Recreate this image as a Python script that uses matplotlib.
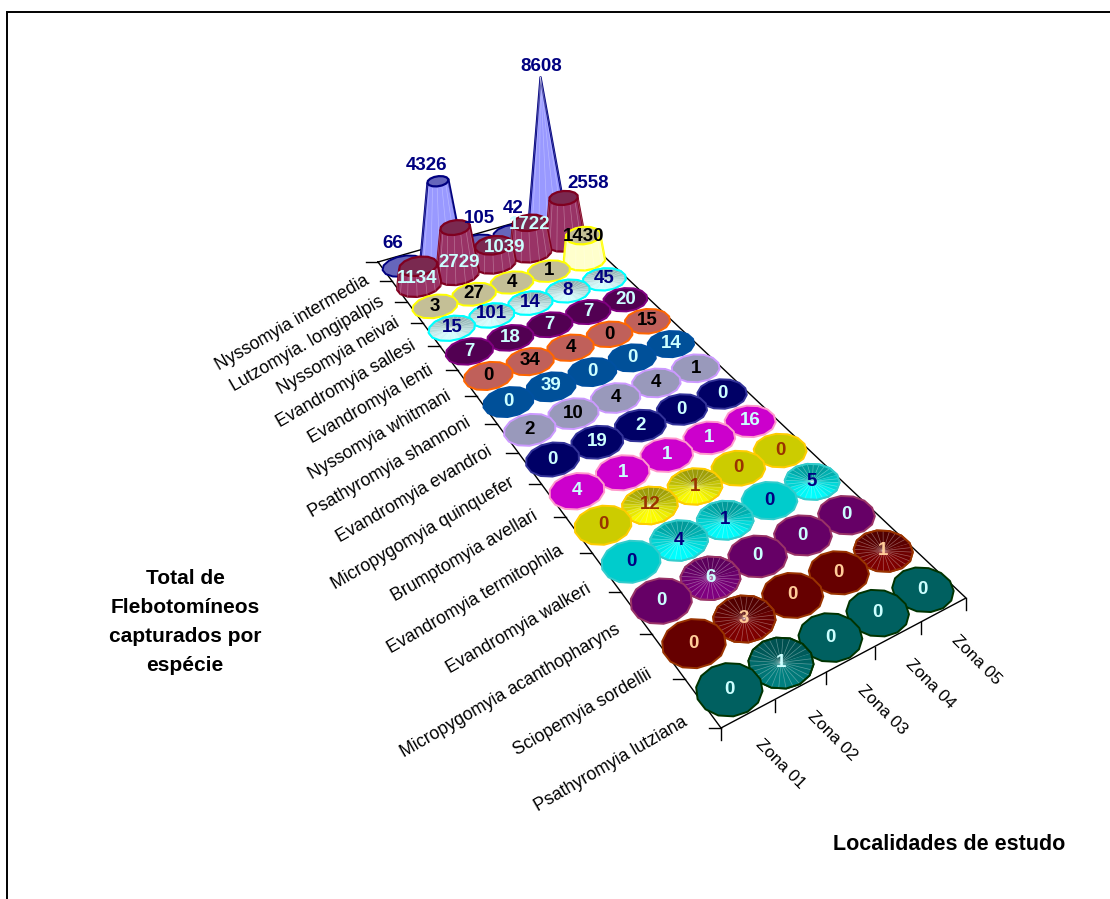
import numpy as np
import matplotlib
matplotlib.use("Agg")
import matplotlib.pyplot as plt
from matplotlib.patches import Polygon, Rectangle

plt.rcParams["font.family"] = ["Liberation Sans", "DejaVu Sans"]

zones = ["Zona 01", "Zona 02", "Zona 03", "Zona 04", "Zona 05"]
species = [
    "Nyssomyia intermedia", "Lutzomyia. longipalpis", "Nyssomyia neivai",
    "Evandromyia sallesi", "Evandromyia lenti", "Nyssomyia whitmani",
    "Psathyromyia shannoni", "Evandromyia evandroi", "Micropygomyia quinquefer",
    "Brumptomyia avellari", "Evandromyia termitophila", "Evandromyia walkeri",
    "Micropygomyia acanthopharyns", "Sciopemyia sordellii", "Psathyromyia lutziana",
]
counts = [
    [66, 4326, 105, 42, 8608],
    [1134, 2729, 1039, 1722, 2558],
    [3, 27, 4, 1, 1430],
    [15, 101, 14, 8, 45],
    [7, 18, 7, 7, 20],
    [0, 34, 4, 0, 15],
    [0, 39, 0, 0, 14],
    [2, 10, 4, 4, 1],
    [0, 19, 2, 0, 0],
    [4, 1, 1, 1, 16],
    [0, 12, 1, 0, 0],
    [0, 4, 1, 0, 5],
    [0, 6, 0, 0, 0],
    [0, 3, 0, 0, 1],
    [0, 1, 0, 0, 0],
]

side_colors = ["#9999FF", "#993366", "#FFFFCC", "#CCFFFF", "#660066", "#C0605A", "#005099", "#9999BB",
               "#000066", "#CC00CC", "#CCCC00", "#00CCCC", "#660066", "#660000", "#006060"]
top_colors = ["#6666BB", "#7A2950", "#C4BF96", "#A5CCCC", "#520052", "#C0605A", "#005099", "#9999BB",
              "#000066", "#CC00CC", "#CCCC00", "#00CCCC", "#660066", "#660000", "#006060"]
edge_colors = ["#000080", "#800020", "#FFFF00", "#00FFFF", "#800080", "#FF6600", "#0050A0", "#CC99FF",
               "#333399", "#FF99CC", "#FFCC00", "#33CCCC", "#993366", "#993300", "#003300"]
label_colors = ["#000080", "#CCFFFF", "#000000", "#000080", "#CCFFFF", "#000000", "#CCFFFF", "#000000",
                "#CCFFFF", "#CCFFFF", "#993300", "#000080", "#CCFFFF", "#FFCC99", "#CCFFFF"]

# dark/bright ends of the shaded discs, only for rows that have them
shade_colors = {
    3: ("#8FB0B0", "#D5FFFF"),
    10: ("#99990A", "#FFFF00"),
    11: ("#009999", "#00FFFF"),
    12: ("#5A005A", "#800080"),
    13: ("#500000", "#800000"),
    14: ("#005050", "#008080"),
}

# where the floor corners land on the canvas
corners_src = np.array([[0, 0], [5, 0], [0, 15], [5, 15]], dtype=float)
corners_dst = np.array([[378, 262], [556, 211], [721, 728], [966, 598]], dtype=float)

HEIGHT_SCALE = 147 / 8608
V_MAX = 8608
LEAN = 0.05  # verticals converge a little to the left
RADIUS_U, RADIUS_V = 0.54, 0.47
N_SIDES = 14

# hand-placed labels in the crowded back rows (dx, dy in pixels)
label_nudge = {
    (0, 0): (-11, -21), (0, 1): (-15, -16), (0, 2): (1, -24), (0, 3): (0, -25), (0, 4): (-7, -11),
    (1, 0): (-2, 12), (1, 1): (2, 35), (1, 2): (10, 2), (1, 3): (-1, 2), (1, 4): (22, -14),
    (2, 4): (-1, 1),
}
label_color_override = {(1, 4): "#000080"}


def fit_homography(src, dst):
    rows, rhs = [], []
    for (x, y), (X, Y) in zip(src, dst):
        rows.append([x, y, 1, 0, 0, 0, -x * X, -y * X])
        rows.append([0, 0, 0, x, y, 1, -x * Y, -y * Y])
        rhs += [X, Y]
    h = np.linalg.solve(np.array(rows), np.array(rhs))
    return np.append(h, 1).reshape(3, 3)


H = fit_homography(corners_src, corners_dst)


def project(u, v):
    u, v = np.asarray(u, dtype=float), np.asarray(v, dtype=float)
    w = H[2, 0] * u + H[2, 1] * v + H[2, 2]
    return np.column_stack([(H[0, 0] * u + H[0, 1] * v + H[0, 2]) / w,
                            (H[1, 0] * u + H[1, 1] * v + H[1, 2]) / w])


def ring(col, row):
    ang = np.linspace(0, 2 * np.pi, N_SIDES, endpoint=False) + 0.2
    return project(col + 0.5 + RADIUS_U * np.cos(ang), row + 0.5 + RADIUS_V * np.sin(ang))


def blend(c1, c2, t):
    a, b = np.array(matplotlib.colors.to_rgb(c1)), np.array(matplotlib.colors.to_rgb(c2))
    return a + (b - a) * t


def draw_column(ax, row, col, value, z):
    base = ring(col, row)
    h = value * HEIGHT_SCALE
    frac = max(1 - value / V_MAX, 0.0)
    center = project(col + 0.5, row + 0.5)[0]
    top = center + (base - center) * frac - [LEAN * h, h]
    side, top_c, edge = side_colors[row], top_colors[row], edge_colors[row]

    if h > 3:
        # outline of the body, then light stripes on the facets
        order = np.argsort(base[:, 0])
        i_l, i_r = order[0], order[-1]
        lower = [i for i in range(N_SIDES) if base[i, 1] >= center[1]]
        lower = sorted(lower, key=lambda i: base[i, 0])
        body = np.vstack([top[i_l], base[i_l], base[lower], base[i_r], top[i_r]])
        ax.add_patch(Polygon(body, closed=True, fc=side, ec=edge, lw=1.6, zorder=z, joinstyle="round"))
        for i in lower:
            ax.plot([base[i, 0], top[i, 0]], [base[i, 1], top[i, 1]], color="white", lw=0.5, alpha=0.3, zorder=z)
        if frac > 0.02:
            ax.add_patch(Polygon(top, closed=True, fc=top_c, ec=edge, lw=1.6, zorder=z, joinstyle="round"))
        return

    ax.add_patch(Polygon(base, closed=True, fc=top_c, ec=edge, lw=1.4, zorder=z, joinstyle="round"))
    if value > 0 and row in shade_colors:
        dark, bright = shade_colors[row]
        span = np.ptp(base[:, 1])
        for i in range(N_SIDES):
            a, b = base[i], base[(i + 1) % N_SIDES]
            t = ((a[1] + b[1]) / 2 - base[:, 1].min()) / span
            ax.add_patch(Polygon([center, a, b], closed=True, fc=blend(dark, bright, t), ec="none", zorder=z))
            for tip in (a, (a + b) / 2):
                ax.plot([center[0], tip[0]], [center[1], tip[1]], color="white", lw=0.5, alpha=0.35, zorder=z)
        ax.add_patch(Polygon(base, closed=True, fc="none", ec=edge, lw=1.4, zorder=z, joinstyle="round"))


fig = plt.figure(figsize=(11.1, 8.99), dpi=100)
ax = fig.add_axes([0, 0, 1, 1])
ax.set_xlim(0, 1110)
ax.set_ylim(899, 0)
ax.axis("off")

# chart area border runs off the bottom and right
ax.add_patch(Rectangle((7, 12), 1200, 1000, fc="white", ec="black", lw=1.4, zorder=0))

n_rows, n_cols = len(species), len(zones)

# floor outline
outline = project([0, n_cols, n_cols, 0, 0], [0, 0, n_rows, n_rows, 0])
ax.plot(outline[:, 0], outline[:, 1], color="black", lw=1, zorder=1)

for r in range(n_rows + 1):
    p = project(0, r)[0]
    ax.plot([p[0] - 12, p[0]], [p[1], p[1]], color="black", lw=1, zorder=1)
for c in range(n_cols + 1):
    p = project(c, n_rows)[0]
    ax.plot([p[0], p[0]], [p[1], p[1] + 12], color="black", lw=1, zorder=1)

for r, name in enumerate(species):
    p = project(0, r + 0.5)[0]
    ax.text(p[0] - 17, p[1] + 8 + 0.7 * r, name, rotation=30, rotation_mode="anchor", ha="right", va="center",
            fontsize=12.8, color="black", zorder=1)
for c, name in enumerate(zones):
    p = project(c + 0.5, n_rows)[0]
    ax.text(p[0] + 10, p[1] + 28, name, rotation=-45, rotation_mode="anchor", ha="left", va="center",
            fontsize=12.3, color="black", zorder=1)

z = 2
for r in range(n_rows):
    for c in range(n_cols - 1, -1, -1):
        draw_column(ax, r, c, counts[r][c], z)
        z += 1

for r in range(n_rows):
    for c in range(n_cols):
        value = counts[r][c]
        p = project(c + 0.5, r + 0.5)[0]
        dx, dy = label_nudge.get((r, c), (0, 0))
        y = p[1] - value * HEIGHT_SCALE + dy
        ax.text(p[0] + dx, y, str(value), ha="center", va="center", fontsize=13.5, fontweight="bold",
                color=label_color_override.get((r, c), label_colors[r]), zorder=500)

ax.text(185, 622, "Total de\nFlebotomíneos\ncapturados por\nespécie", ha="center", va="center",
        fontsize=15, fontweight="bold", linespacing=1.65, color="black")
ax.text(949, 844, "Localidades de estudo", ha="center", va="center", fontsize=15.5, fontweight="bold", color="black")

fig.savefig("out.png", dpi=100)
